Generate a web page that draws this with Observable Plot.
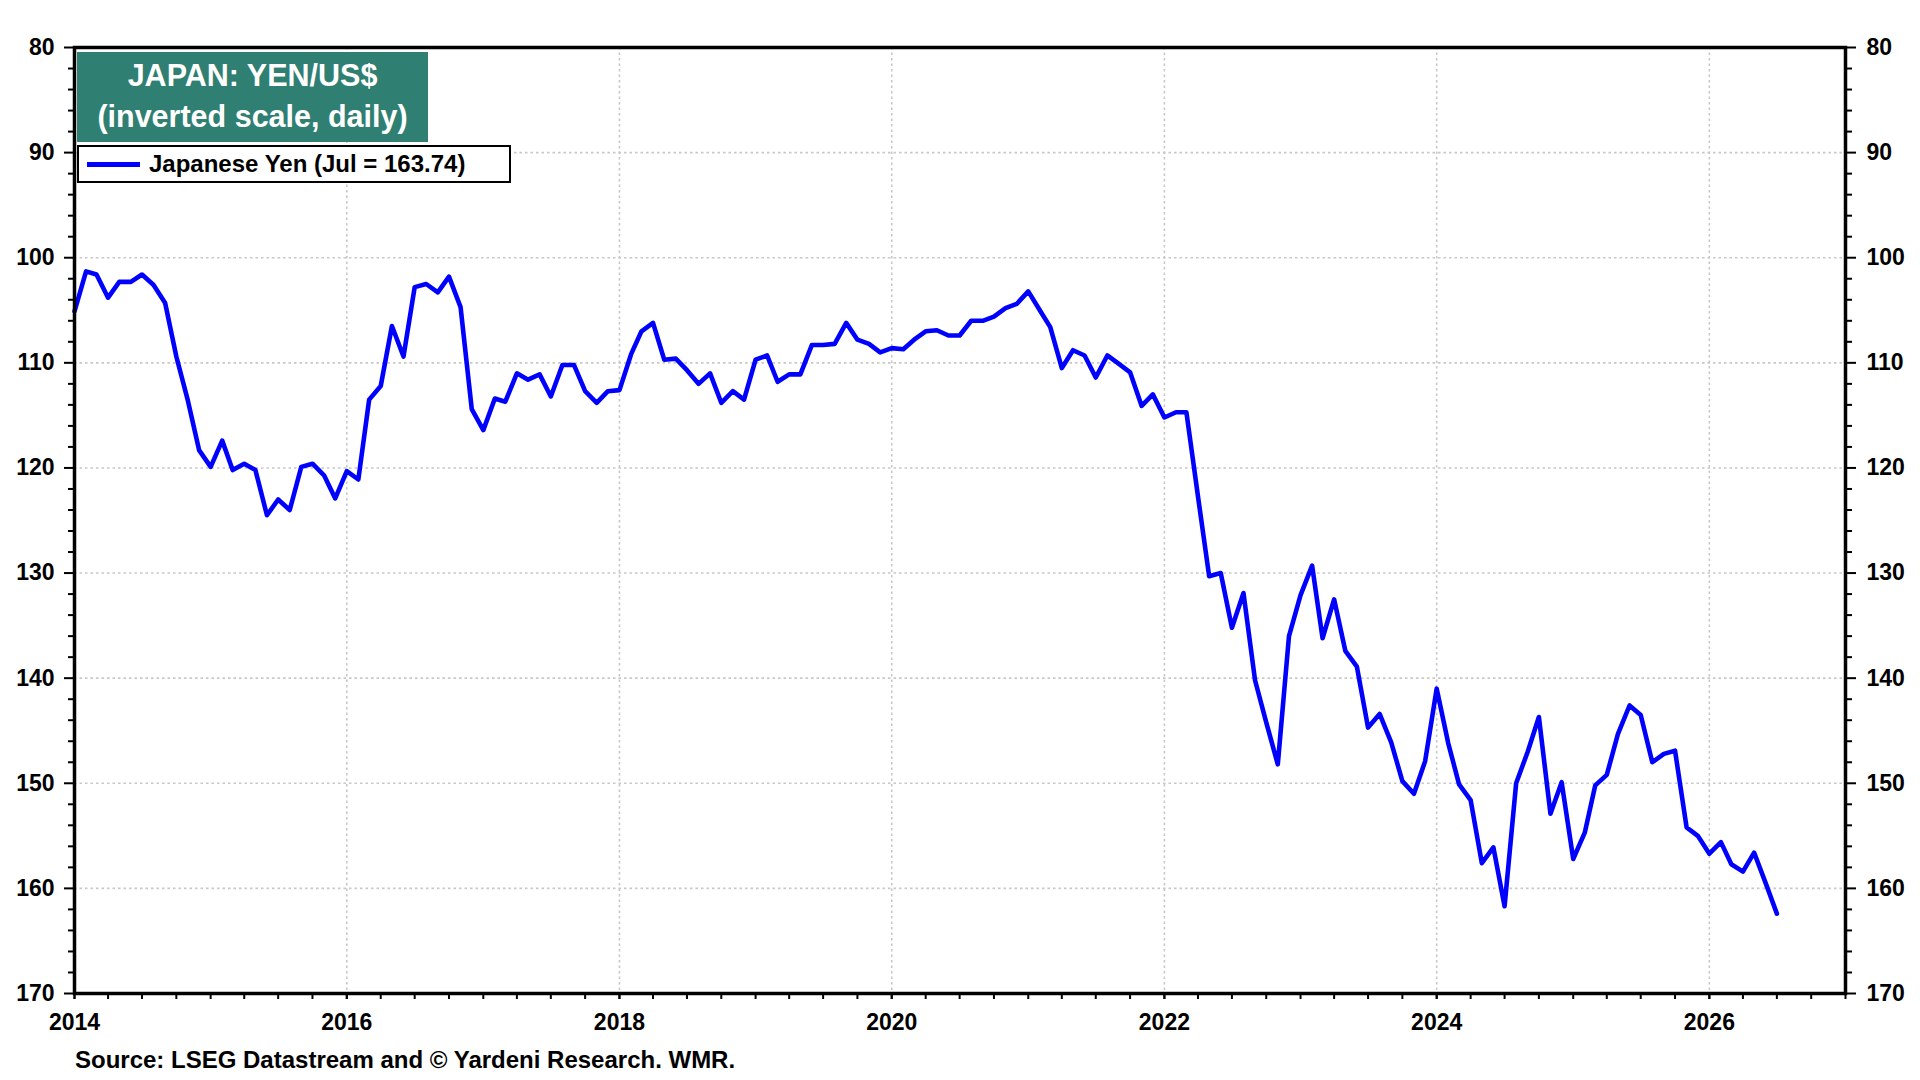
<!DOCTYPE html>
<html>
<head>
<meta charset="utf-8">
<script src="https://cdn.jsdelivr.net/npm/d3@7"></script>
<script src="https://cdn.jsdelivr.net/npm/@observablehq/plot@0.6"></script>
<style>
  html, body { margin: 0; padding: 0; background: #fff; }
  body { width: 1920px; height: 1080px; position: relative; overflow: hidden;
         font-family: "Liberation Sans", Arial, sans-serif; font-weight: bold; }
  #chart { position: absolute; left: 0; top: 0; }
  .titlebox { position: absolute; left: 77px; top: 52px; width: 351px; height: 90px;
              background: #2f7f72; color: #fff; font-size: 30.5px; line-height: 41px;
              text-align: center; box-sizing: border-box; padding-top: 3px; }
  .legendbox { position: absolute; left: 77px; top: 145px; width: 434px; height: 38px;
               box-sizing: border-box; border: 2.5px solid #000; background: #fff; }
  .legendbox .swatch { position: absolute; left: 8px; top: 14.5px; width: 53px; height: 5px; background: #0000ff; }
  .legendbox .label { position: absolute; left: 70px; top: 4px; font-size: 24px; line-height: 26px; color: #000; white-space: nowrap; }
  .source { position: absolute; left: 75px; top: 1047px; font-size: 24px; line-height: 26px; color: #000; white-space: nowrap; }
</style>
</head>
<body>
<div id="chart"></div>
<div class="titlebox">JAPAN: YEN/US$<br>(inverted scale, daily)</div>
<div class="legendbox"><div class="swatch"></div><div class="label">Japanese Yen (Jul = 163.74)</div></div>
<div class="source">Source: LSEG Datastream and © Yardeni Research. WMR.</div>
<script>
// ---- data (monthly readings, yen per US$) ----
const firstYear = 2014;
const yen2014 = [105.1, 101.3, 101.6, 103.8, 102.3, 102.3, 101.6, 102.6, 104.3, 109.4, 113.6, 118.3];
const yen2015 = [119.9, 117.4, 120.2, 119.6, 120.2, 124.5, 123.0, 124.0, 119.9, 119.6, 120.7, 122.9];
const yen2016 = [120.3, 121.1, 113.5, 112.2, 106.5, 109.4, 102.8, 102.5, 103.3, 101.8, 104.7, 114.4];
const yen2017 = [116.4, 113.4, 113.7, 111.0, 111.6, 111.1, 113.2, 110.2, 110.2, 112.7, 113.8, 112.7];
const yen2018 = [112.6, 109.2, 107.0, 106.2, 109.7, 109.6, 110.7, 112.0, 111.0, 113.8, 112.7, 113.5];
const yen2019 = [109.7, 109.3, 111.8, 111.1, 111.1, 108.3, 108.3, 108.2, 106.2, 107.8, 108.2, 109.0];
const yen2020 = [108.6, 108.7, 107.8, 107.0, 106.9, 107.4, 107.4, 106.0, 106.0, 105.6, 104.8, 104.4];
const yen2021 = [103.2, 105.0, 106.6, 110.5, 108.8, 109.3, 111.4, 109.3, 110.1, 110.9, 114.1, 113.0];
const yen2022 = [115.2, 114.7, 114.7, 122.7, 130.3, 130.0, 135.2, 131.9, 140.2, 144.2, 148.2, 136.0];
const yen2023 = [132.1, 129.3, 136.2, 132.5, 137.4, 138.9, 144.7, 143.4, 146.1, 149.8, 151.0, 147.9];
const yen2024 = [141.0, 146.2, 150.1, 151.6, 157.6, 156.1, 161.7, 150.0, 147.0, 143.7, 152.9, 149.9];
const yen2025 = [157.2, 154.7, 150.2, 149.2, 145.3, 142.6, 143.5, 148.0, 147.2, 146.9, 154.2, 155.0];
const yen2026 = [156.7, 155.6, 157.7, 158.4, 156.6, 159.5, 162.4];

const yTickLabels = [80, 90, 100, 110, 120, 130, 140, 150, 160, 170];
const xTickYears = [2014, 2016, 2018, 2020, 2022, 2024, 2026];
const yDomain = [80, 170];
const xDomainYears = [2014, 2027];

// ---- build table ----
const yearly = [yen2014, yen2015, yen2016, yen2017, yen2018, yen2019, yen2020,
                yen2021, yen2022, yen2023, yen2024, yen2025, yen2026];
const data = [];
yearly.forEach((arr, i) => arr.forEach((v, m) => data.push({date: new Date(Date.UTC(firstYear + i, m, 1)), value: v})));

const yMinor = d3.range(yDomain[0], yDomain[1] + 0.001, 2).filter(v => v % 10 !== 0);
const yGrid = yTickLabels.filter(v => v !== yDomain[0] && v !== yDomain[1]);
const xMajor = xTickYears.map(y => new Date(Date.UTC(y, 0, 1)));
const xGrid = xMajor.filter(d => d.getUTCFullYear() !== xDomainYears[0]);
const xMinor = d3.utcMonth.every(3).range(new Date(Date.UTC(xDomainYears[0], 0, 1)), new Date(Date.UTC(xDomainYears[1], 0, 2)));

const font = {fontSize: 23, fontWeight: "bold"};
const gridStyle = {stroke: "#c8c8c8", strokeOpacity: 1, strokeWidth: 1.6, strokeDasharray: "2.5,3"};

const chart = Plot.plot({
  width: 1920,
  height: 1040,
  marginLeft: 74,
  marginRight: 75,
  marginTop: 47,
  marginBottom: 47,
  style: {fontFamily: "'Liberation Sans', Arial, sans-serif", background: "#fff", color: "#000"},
  x: {type: "utc", domain: xDomainYears.map(y => new Date(Date.UTC(y, 0, 1)))},
  y: {domain: yDomain, reverse: true},
  marks: [
    Plot.gridY(yGrid, gridStyle),
    Plot.gridX(xGrid, gridStyle),
    Plot.line(data, {x: "date", y: "value", stroke: "#0000ff", strokeWidth: 4.6, strokeLinejoin: "round", strokeLinecap: "round"}),
    Plot.axisY(yMinor, {anchor: "left", tickSize: 6, tickFormat: () => "", label: null, strokeWidth: 2}),
    Plot.axisY(yMinor, {anchor: "right", tickSize: 6, tickFormat: () => "", label: null, strokeWidth: 2}),
    Plot.axisY(yTickLabels, {anchor: "left", tickSize: 10, tickPadding: 10, tickFormat: d => String(d), label: null, strokeWidth: 2, ...font}),
    Plot.axisY(yTickLabels, {anchor: "right", tickSize: 10, tickPadding: 11, tickFormat: d => String(d), label: null, strokeWidth: 2, ...font}),
    Plot.axisX(xMinor, {anchor: "bottom", tickSize: 6, tickFormat: () => "", label: null, strokeWidth: 2}),
    Plot.axisX(xMajor, {anchor: "bottom", tickSize: 6, tickPadding: 14, tickFormat: d => String(d.getUTCFullYear()), label: null, strokeWidth: 2, ...font}),
    Plot.frame({stroke: "#000", strokeWidth: 3.5})
  ]
});
document.getElementById("chart").appendChild(chart);
</script>
</body>
</html>
